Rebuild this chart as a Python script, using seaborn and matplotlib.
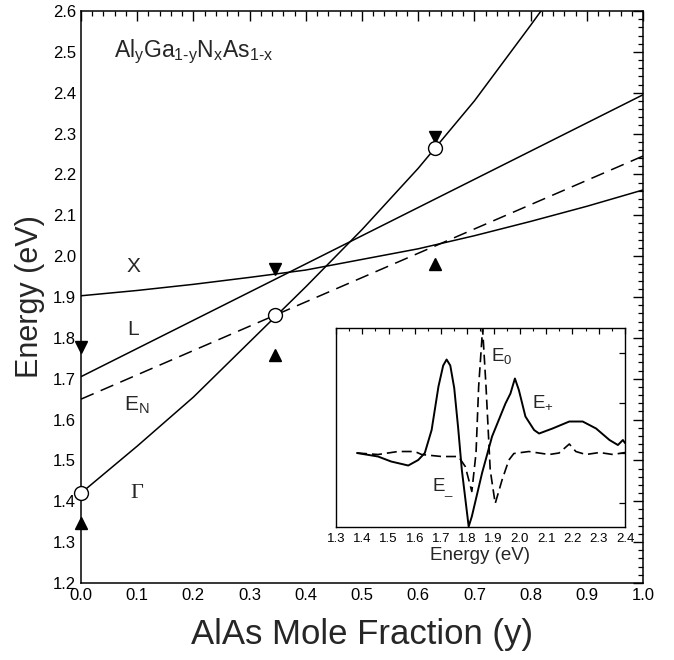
import numpy as np
import pandas as pd
import matplotlib
matplotlib.use("Agg")
import matplotlib.pyplot as plt
from matplotlib.ticker import MultipleLocator
import seaborn as sns

# Band edges vs AlAs mole fraction
y_frac = [0.0, 0.1, 0.2, 0.3, 0.4, 0.5, 0.6, 0.7, 0.8, 0.9, 1.0]
gamma_frac = [0.0, 0.1, 0.2, 0.3, 0.4, 0.5, 0.6, 0.7, 0.8, 0.85]
gamma_E = [1.42, 1.535, 1.655, 1.79, 1.925, 2.065, 2.215, 2.38, 2.565, 2.66]
x_E = [1.903, 1.916, 1.931, 1.948, 1.966, 1.992, 2.018, 2.05, 2.085, 2.122, 2.162]
l_frac = [0.0, 1.0]
l_E = [1.705, 2.395]
en_frac = [0.0, 1.0]
en_E = [1.65, 2.245]

# Measured points
meas_frac = [0.0, 0.345, 0.63]
circle_E = [1.42, 1.855, 2.265]
down_E = [1.777, 1.968, 2.292]
up_E = [1.347, 1.758, 1.981]

# Inset spectra (arb. units)
solid_eV = [1.38, 1.46, 1.51, 1.575, 1.613, 1.638, 1.664, 1.69, 1.708, 1.721, 1.735, 1.75,
            1.765, 1.779, 1.805, 1.817, 1.856, 1.894, 1.945, 1.964, 1.981, 1.996, 2.021,
            2.054, 2.073, 2.124, 2.188, 2.239, 2.29, 2.341, 2.373, 2.392, 2.4]
solid_sig = [1.0, 0.93, 0.83, 0.75, 0.86, 1.0, 1.46, 2.33, 2.75, 2.87, 2.75, 2.3,
             1.5, 0.66, -0.47, -0.27, 0.6, 1.33, 1.99, 2.19, 2.49, 2.26, 1.73,
             1.46, 1.39, 1.49, 1.63, 1.63, 1.49, 1.26, 1.16, 1.26, 1.2]
dash_eV = [1.38, 1.46, 1.536, 1.6, 1.626, 1.702, 1.766, 1.792, 1.817, 1.833, 1.843,
           1.858, 1.871, 1.887, 1.906, 1.932, 1.958, 1.977, 2.034, 2.111, 2.149,
           2.188, 2.213, 2.251, 2.303, 2.354, 2.4]
dash_sig = [1.0, 0.97, 1.03, 1.03, 0.97, 0.93, 0.93, 0.73, 0.23, 1.0, 2.33,
            3.49, 2.33, 0.66, -0.01, 0.46, 0.86, 0.99, 1.03, 0.97, 1.0,
            1.18, 1.03, 0.97, 1.01, 0.97, 1.01]

sns.set_theme(style="white")
plt.rcParams['font.family'] = ['Liberation Sans', 'DejaVu Sans']
plt.rcParams['mathtext.fontset'] = 'custom'
plt.rcParams['mathtext.rm'] = 'Liberation Sans'
plt.rcParams['mathtext.it'] = 'Liberation Sans'

fig = plt.figure(figsize=(6.74, 6.6), dpi=100)
ax = fig.add_axes([0.1202, 0.1167, 0.8338, 0.8666])

line_kw = dict(color='black', linewidth=1.1, ax=ax)
sns.lineplot(x=gamma_frac, y=gamma_E, **line_kw)
sns.lineplot(x=y_frac, y=x_E, **line_kw)
sns.lineplot(x=l_frac, y=l_E, **line_kw)
sns.lineplot(x=en_frac, y=en_E, linestyle=(0, (9, 5)), **line_kw)

ax.plot(meas_frac, down_E, linestyle='none', marker='v', markersize=9,
        color='black', clip_on=False, zorder=5)
ax.plot(meas_frac, up_E, linestyle='none', marker='^', markersize=9,
        color='black', clip_on=False, zorder=5)
ax.plot(meas_frac, circle_E, linestyle='none', marker='o', markersize=10,
        markerfacecolor='white', markeredgecolor='black', markeredgewidth=1.0,
        clip_on=False, zorder=6)

ax.set_xlim(0, 1.0)
ax.set_ylim(1.2, 2.6)
ax.xaxis.set_major_locator(MultipleLocator(0.1))
ax.xaxis.set_minor_locator(MultipleLocator(0.02))
ax.yaxis.set_major_locator(MultipleLocator(0.1))
ax.yaxis.set_minor_locator(MultipleLocator(0.02))
ax.tick_params(which='both', direction='in', top=True, right=True, colors='black',
               labelsize=12)
ax.tick_params(which='major', length=7, width=1)
ax.tick_params(which='minor', length=3.5, width=0.9)
for s in ax.spines.values():
    s.set_color('black')
    s.set_linewidth(1.1)
ax.set_xlabel('AlAs Mole Fraction (y)', fontsize=25, labelpad=11)
ax.set_ylabel('Energy (eV)', fontsize=22, labelpad=6)

ax.text(0.2, 2.5, 'Al$_\\mathregular{y}$Ga$_\\mathregular{1\u2010y}$N$_\\mathregular{x}$As$_\\mathregular{1\u2010x}$',
        fontsize=16.5, ha='center', va='center')
ax.text(0.094, 1.975, 'X', fontsize=15, ha='center', va='center')
ax.text(0.093, 1.82, 'L', fontsize=15, ha='center', va='center')
ax.text(0.1, 1.635, r'E$_\mathregular{N}$', fontsize=15, ha='center', va='center')
ax.text(0.1, 1.42, 'Γ', fontsize=16, ha='center', va='center',
        family=['Liberation Serif', 'DejaVu Serif'])

# Inset
axi = fig.add_axes([0.4985, 0.2015, 0.4288, 0.3015])
sns.lineplot(x=solid_eV, y=solid_sig, color='black', linewidth=1.4, ax=axi)
sns.lineplot(x=dash_eV, y=dash_sig, color='black', linewidth=1.2,
             linestyle=(0, (6, 3)), ax=axi)
axi.set_xlim(1.3, 2.4)
axi.set_ylim(-0.48, 3.5)
axi.xaxis.set_major_locator(MultipleLocator(0.1))
axi.xaxis.set_minor_locator(MultipleLocator(0.05))
axi.yaxis.set_major_locator(MultipleLocator(1))
axi.set_yticklabels([])
axi.tick_params(which='both', direction='in', top=True, right=True, colors='black',
                labelsize=9.5, pad=4)
axi.tick_params(which='major', length=4, width=0.9)
axi.tick_params(which='minor', length=2, width=0.8)
for s in axi.spines.values():
    s.set_color('black')
    s.set_linewidth(1.0)
axi.set_xlabel('Energy (eV)', fontsize=13.5, labelpad=2)
axi.text(1.89, 2.95, r'E$_\mathregular{0}$', fontsize=13.5, ha='left', va='center')
axi.text(2.045, 2.02, r'E$_\mathregular{+}$', fontsize=13.5, ha='left', va='center')
axi.text(1.665, 0.3, r'E$_\mathregular{\_}$', fontsize=13.5, ha='left', va='center')

fig.savefig('out.png', dpi=100)
